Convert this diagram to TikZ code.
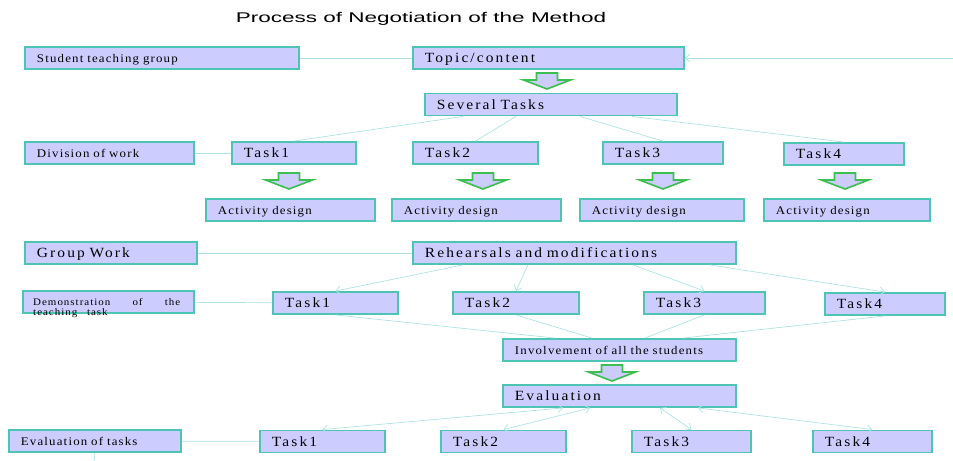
\documentclass[tikz,border=0pt]{standalone}
\usepackage{fontspec}
\usetikzlibrary{arrows.meta}
\newfontfamily\titlefont[FakeStretch=1.6]{Liberation Sans}
\newfontfamily\boxfont[FakeStretch=1.1, LetterSpace=15, WordSpace=2.6]{Liberation Serif}
\newfontfamily\smallboxfont[FakeStretch=1.1, LetterSpace=10, WordSpace=2.6]{Liberation Serif}
\newcommand{\pxu}{0.03cm}
\definecolor{boxfill}{RGB}{204,204,255}
\definecolor{boxedge}{RGB}{78,196,180}
\definecolor{linkline}{RGB}{176,226,228}
\definecolor{arrowgreen}{RGB}{60,190,80}

\tikzset{
  labelbox/.style={draw=boxedge, fill=boxfill, line width=1.6pt, anchor=west,
    inner xsep=12*\pxu, inner ysep=0pt, minimum height=22*\pxu, align=left,
    text width=#1*\pxu, text depth=0pt},
  bigbox/.style={labelbox=#1, font=\boxfont\fontsize{12}{13}\selectfont},
  smallbox/.style={labelbox=#1, font=\smallboxfont\fontsize{10}{11}\selectfont},
  link/.style={draw=linkline, line width=0.6pt},
  linkarrow/.style={link, -{Straight Barb[length=4pt,width=7pt]}},
  linkboth/.style={link, {Straight Barb[length=4pt,width=7pt]}-{Straight Barb[length=4pt,width=7pt]}},
  downblock/.pic={
    \draw[draw=arrowgreen, fill=boxfill, line width=1.4pt, line join=miter]
      (-10.5,0) -- (10.5,0) -- (10.5,7) -- (23.5,7) -- (0,16) -- (-23.5,7) -- (-10.5,7) -- cycle;
  }
}

\begin{document}
\begin{tikzpicture}[x=0.03cm, y=-0.03cm]
  \useasboundingbox (0,0) rectangle (953,461);

  \node (title) at (421,19) {\titlefont\fontsize{12}{14}\selectfont Process of Negotiation of the Method};

  % planning part
  \node[smallbox=250] (student) at (24,58) {Student teaching group};
  \node[bigbox=247] (topic) at (412,58) {Topic/content};
  \coordinate (rightend) at (953,58);
  \pic at (547,73) {downblock};
  \node[bigbox=228] (several) at (424,104.5) {Several Tasks};

  \node[smallbox=145] (division) at (24,153) {Division of work};
  \node[bigbox=100] (ta1) at (231,153) {Task1};
  \node[bigbox=101] (ta2) at (412,153) {Task2};
  \node[bigbox=96] (ta3) at (602,153) {Task3};
  \node[bigbox=96] (ta4) at (783,154) {Task4};

  \pic at (289,173) {downblock};
  \pic at (483,173) {downblock};
  \pic at (663,173) {downblock};
  \pic at (845,173) {downblock};

  \node[smallbox=145] (act1) at (205,210) {Activity design};
  \node[smallbox=145] (act2) at (391,210) {Activity design};
  \node[smallbox=140] (act3) at (579,210) {Activity design};
  \node[smallbox=142] (act4) at (763,210) {Activity design};

  \draw[link] (student) -- (topic);
  \draw[linkarrow] (rightend) -- (topic);
  \draw[link] (division) -- (ta1);
  \draw[link] ([xshift=39*\pxu]several.south west) -- (ta1.north);
  \draw[link] ([xshift=92*\pxu]several.south west) -- (ta2.north);
  \draw[link] ([xshift=156*\pxu]several.south west) -- (ta3.north);
  \draw[link] ([xshift=208*\pxu]several.south west) -- (ta4.north);

  % group work part
  \node[bigbox=148] (group) at (24,253) {Group Work};
  \node[bigbox=299] (rehearsal) at (412,253) {Rehearsals and modifications};

  \node[smallbox=147] (demo) at (22,302) {};
  \node[anchor=north west, inner sep=0pt, text width=147*\pxu, align=justify,
    font=\smallboxfont\fontsize{8.5}{9}\selectfont] (demotext) at (33,298)
    {Demonstration of the teaching task};
  \node[bigbox=101] (tb1) at (272,303) {Task1};
  \node[bigbox=102] (tb2) at (452,303) {Task2};
  \node[bigbox=97] (tb3) at (643,303) {Task3};
  \node[bigbox=96] (tb4) at (824,304) {Task4};

  \node[smallbox=209] (involve) at (502,350) {Involvement of all the students};
  \pic at (612,365) {downblock};
  \node[bigbox=209] (evaluation) at (502,396) {Evaluation};

  \node[smallbox=148] (evaltasks) at (8,441) {Evaluation of tasks};
  \coordinate (stub) at (94,461);
  \node[bigbox=101] (tc1) at (259,441.5) {Task1};
  \node[bigbox=101] (tc2) at (440,441.5) {Task2};
  \node[bigbox=95] (tc3) at (631,441.5) {Task3};
  \node[bigbox=95] (tc4) at (812,441.5) {Task4};

  \draw[link] (group) -- (rehearsal);
  \draw[link] (demo) -- (tb1);
  \draw[linkarrow] ([xshift=51*\pxu]rehearsal.south west) -- (tb1.north);
  \draw[linkarrow] ([xshift=116*\pxu]rehearsal.south west) -- (tb2.north);
  \draw[linkarrow] ([xshift=221*\pxu]rehearsal.south west) -- (tb3.north);
  \draw[linkarrow] ([xshift=298*\pxu]rehearsal.south west) -- (tb4.north);

  \draw[link] (tb1.south) -- ([xshift=53*\pxu]involve.north west);
  \draw[link] (tb2.south) -- ([xshift=90*\pxu]involve.north west);
  \draw[link] (tb3.south) -- ([xshift=143*\pxu]involve.north west);
  \draw[link] (tb4.south) -- ([xshift=181*\pxu]involve.north west);

  \draw[link] (evaltasks) -- (tc1);
  \draw[link] (evaltasks.south) -- (stub);
  \draw[linkboth] ([xshift=61*\pxu]evaluation.south west) -- (tc1.north);
  \draw[linkboth] ([xshift=88*\pxu]evaluation.south west) -- (tc2.north);
  \draw[linkboth] ([xshift=158*\pxu]evaluation.south west) -- (tc3.north);
  \draw[linkboth] ([xshift=196*\pxu]evaluation.south west) -- (tc4.north);
\end{tikzpicture}
\end{document}
